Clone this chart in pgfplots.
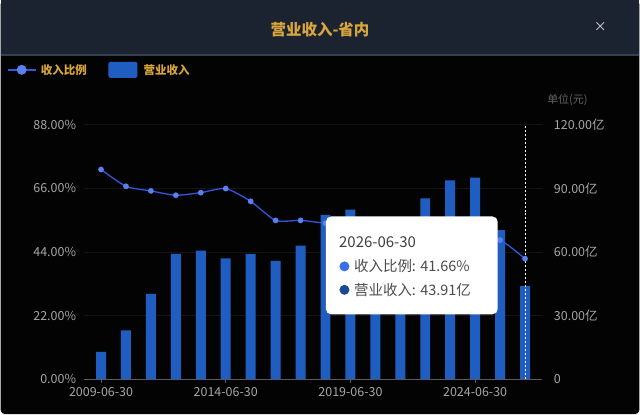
\documentclass[border=0pt]{standalone}
\usepackage{pgfplots}
\pgfplotsset{compat=1.18}
\usepackage{fontspec}
\setmainfont{Noto Sans CJK SC}

\definecolor{bgblack}{HTML}{030303}
\definecolor{titlebar}{HTML}{1B2230}
\definecolor{sepcol}{HTML}{34404F}
\definecolor{gold}{HTML}{D9A63C}
\definecolor{barblue}{HTML}{1F5EC0}
\definecolor{lineblue}{HTML}{3556DC}
\definecolor{dotblue}{HTML}{5A80F0}
\definecolor{ticktext}{HTML}{A6A6A6}
\definecolor{axisgray}{HTML}{5A5A5A}
\definecolor{gridcol}{HTML}{141414}
\definecolor{tipdark}{HTML}{174A95}
\definecolor{tiplight}{HTML}{3B6FE8}

% revenue (亿) and share (%) per year, index 0 = 2009-06-30
\pgfplotstableread{
idx revenue share
0  12.8  72.5
1  23.0  66.7
2  40.2  65.1
3  59.1  63.6
4  60.6  64.5
5  56.9  65.9
6  58.9  61.5
7  55.8  54.9
8  63.0  54.9
9  77.5  53.9
10 80.0  53.0
11 74.0  52.0
12 70.0  51.5
13 85.2  50.5
14 93.7  49.5
15 95.0  49.0
16 70.3  48.1
17 43.91 41.66
}\datatable

\begin{document}
\begin{tikzpicture}
\fill[bgblack, rounded corners=4pt] (0,0) rectangle (640pt,415pt);
\fill[titlebar] (0,360pt) rectangle (640pt,415pt);
\draw[sepcol, line width=1.5pt] (0,360pt) -- (640pt,360pt);
\node[gold, font=\fontsize{15.5}{18}\selectfont\bfseries] at (320pt,385pt) {营业收入-省内};
\node[white!85!black, font=\fontsize{13}{15}\selectfont] at (601pt,388pt) {×};

% legend
\draw[lineblue, line width=1.5pt] (7pt,345pt) -- (35pt,345pt);
\fill[dotblue] (21pt,345pt) circle (5pt);
\node[gold, anchor=west, inner sep=0pt, font=\fontsize{11.5}{13}\selectfont\bfseries] at (40pt,345pt) {收入比例};
\fill[barblue, rounded corners=2pt] (108pt,337pt) rectangle (137pt,353pt);
\node[gold, anchor=west, inner sep=0pt, font=\fontsize{11.5}{13}\selectfont\bfseries] at (143pt,345pt) {营业收入};
\node[ticktext!60!black, font=\fontsize{11}{13}\selectfont] at (568pt,315pt) {单位(元)};

\begin{axis}[
  at={(83pt,35pt)}, anchor=south west,
  scale only axis, width=460pt, height=255pt,
  xmin=-0.7, xmax=17.7, ymin=0, ymax=120,
  axis x line*=bottom, axis y line*=right,
  x axis line style={-, draw=axisgray, line width=0.8pt},
  y axis line style={draw=none},
  xtick={0,5,10,15},
  xticklabels={2009-06-30,2014-06-30,2019-06-30,2024-06-30},
  x tick style={draw=axisgray, line width=0.8pt},
  tick align=outside, major tick length=4pt,
  ytick={0,30,60,90,120},
  yticklabels={0,30.00亿,60.00亿,90.00亿,120.00亿},
  y tick style={draw=none},
  ymajorgrids, grid style={gridcol, line width=0.6pt},
  tick label style={ticktext, font=\fontsize{12.5}{14}\selectfont},
  yticklabel style={xshift=4pt},
  xticklabel style={yshift=-1pt},
  ybar, bar width=10pt,
]
\addplot[fill=barblue, draw=none] table[x=idx, y=revenue] {\datatable};
\draw[white, line width=1pt, dash pattern=on 2pt off 2pt] (axis cs:17,0) -- (axis cs:17,120);
\end{axis}

\begin{axis}[
  at={(83pt,35pt)}, anchor=south west,
  scale only axis, width=460pt, height=255pt,
  xmin=-0.7, xmax=17.7, ymin=0, ymax=88,
  axis x line=none, axis y line*=left,
  y axis line style={draw=none},
  ytick={0,22,44,66,88},
  yticklabels={0.00\%,22.00\%,44.00\%,66.00\%,88.00\%},
  y tick style={draw=none},
  tick label style={ticktext, font=\fontsize{12.5}{14}\selectfont},
  yticklabel style={xshift=-4pt},
]
\addplot[lineblue, line width=1.3pt, smooth, tension=0.4, mark=*, mark size=2.2pt,
  mark options={fill=dotblue, draw=dotblue}] table[x=idx, y=share] {\datatable};
\end{axis}

% tooltip
\fill[white, rounded corners=5pt] (326pt,100pt) rectangle (498pt,198pt);
\node[anchor=west, inner sep=0pt, black!75, font=\fontsize{15}{18}\selectfont] at (339pt,172pt) {2026-06-30};
\fill[tiplight] (344.5pt,148pt) circle (5pt);
\node[anchor=west, inner sep=0pt, black!70, font=\fontsize{14.5}{17}\selectfont] at (354pt,148pt) {收入比例: 41.66\%};
\fill[tipdark] (344.5pt,124.5pt) circle (5pt);
\node[anchor=west, inner sep=0pt, black!70, font=\fontsize{14.5}{17}\selectfont] at (354pt,124.5pt) {营业收入: 43.91亿};
\end{tikzpicture}
\end{document}
